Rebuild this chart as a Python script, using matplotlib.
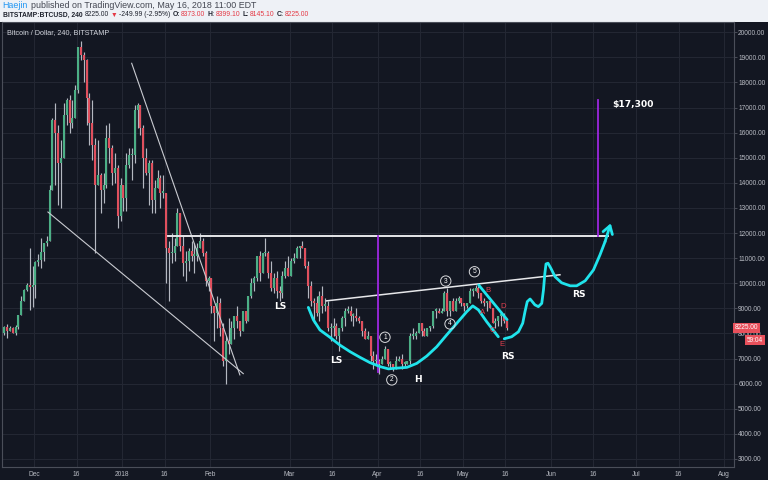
import matplotlib
matplotlib.use("Agg")
import matplotlib.pyplot as plt
import matplotlib.dates as mdates
import matplotlib.transforms as mtransforms
import numpy as np
import pandas as pd

plt.rcParams['font.family'] = ['Liberation Sans', 'DejaVu Sans']

# daily BTCUSD candles (Bitstamp), starting 20 Nov 2017
first_day = "2017-11-20"
opens = [
    8030, 8240, 8100, 8230, 8030, 8250, 8730, 9310, 9730, 9920, 9850,
    9950, 10860, 10910, 11240, 11600, 11700, 13700, 16500, 16000, 14800, 15000, 16700, 17300, 16400, 16600, 17700,
    19400, 19100, 18900, 17400, 16400, 15500, 13900, 14300, 13700, 13900, 15800, 15400, 14400, 14600, 12700,
    13900, 13400, 14700, 15100, 15100, 16900, 17100, 16200, 15000, 14400, 14800, 13300, 13800, 14200, 13600, 13600,
    11400, 11200, 11200, 11500, 12800, 11500, 10800, 10900, 11300, 11100, 11100, 11400, 11700, 11200, 10100,
    10200, 9100, 8800, 9200, 8200, 6900, 7700, 7600, 8200, 8700, 8500, 8100, 8900, 8500, 9500, 10000,
    10200, 11100, 10400, 11200, 11200, 10400, 9800, 10200, 9700, 9600, 10300, 10600,
    10300, 10900, 11000, 11400, 11500, 11400, 10700, 9900, 9300, 9200, 8800, 9500, 9100, 9100, 8200, 8200,
    8300, 7900, 8200, 8600, 8900, 8900, 8700, 8700, 8600, 8500, 8100, 7800, 7900, 7100, 6900,
    6900, 6800, 7000, 7400, 6800, 6800, 6600, 6900, 7000, 6800, 6800, 6900, 7900, 7900, 8000,
    8400, 8100, 7900, 8200, 8300, 8900, 8900, 8800, 8900, 9600, 8900, 9300, 8900, 9300, 9400,
    9200, 9100, 9200, 9700, 9700, 9800, 9600, 9300, 9200, 9300, 9000, 8400, 8500, 8700, 8700, 8500,
]
highs = [
    8280, 8370, 8300, 8270, 8340, 8750, 9480, 9770, 10000, 11400, 10700,
    10900, 11150, 11800, 11600, 11900, 13900, 16600, 17200, 16300, 15700, 17200, 17400, 17500, 17300, 17900, 19400,
    19650, 19200, 18950, 17600, 17300, 15800, 15700, 14400, 14400, 16300, 16400, 15500, 15200, 14700, 14200,
    13900, 15200, 15400, 15400, 17100, 17200, 17100, 16300, 15400, 14900, 14900, 14100, 14500, 14300, 14300, 13600,
    11700, 12000, 11800, 13000, 12800, 11900, 11300, 11400, 11700, 11600, 11600, 12000, 11800, 11300, 10300,
    10200, 9100, 9500, 9400, 8400, 7900, 8600, 8500, 8700, 9100, 8500, 8900, 8900, 9500, 10200,
    10300, 11100, 11300, 11200, 11800, 11300, 10900, 10400, 10500, 9900, 10500, 10900, 11100,
    11000, 11200, 11500, 11500, 11700, 11400, 10900, 10100, 9400, 9500, 9700, 9900, 9400, 9300, 8400, 8600,
    8400, 8200, 8700, 9000, 9100, 9100, 8800, 9000, 8700, 8500, 8200, 8100, 7900, 7300, 7200,
    7000, 7100, 7500, 7400, 6900, 6800, 7100, 7100, 7200, 6900, 6900, 8000, 8200, 8100, 8400,
    8400, 8200, 8200, 8300, 8900, 9000, 9000, 9000, 9700, 9800, 9300, 9400, 9400, 9500, 9400,
    9200, 9200, 9800, 9800, 9950, 9900, 9600, 9400, 9300, 9300, 9000, 8600, 8700, 8900, 8800, 8500,
]
lows = [
    7950, 7820, 8080, 8030, 7950, 8180, 8730, 9300, 9680, 8950, 9050,
    9400, 10700, 10600, 10900, 11500, 11700, 13700, 13900, 13100, 13000, 15000, 16300, 16000, 16200, 16600, 17600,
    18900, 18000, 16300, 15500, 14900, 11200, 13900, 12800, 13200, 13800, 14800, 13900, 14000, 12200, 12500,
    12900, 12900, 14600, 14100, 14800, 16200, 15900, 13800, 14300, 13100, 12800, 12800, 13800, 13000, 13400, 10000,
    9300, 10800, 10900, 11500, 11300, 10300, 10100, 10500, 10900, 10400, 10900, 11400, 11100, 9900, 9700,
    8800, 7700, 8200, 7900, 6700, 6000, 7200, 7600, 7800, 8200, 7900, 8100, 8400, 8500, 9400,
    9700, 10100, 10100, 10400, 11100, 10200, 9700, 9600, 9400, 9300, 9400, 10200, 10300,
    10300, 10800, 11000, 11000, 11400, 10600, 9400, 9100, 8400, 8700, 8500, 8800, 8900, 8100, 7700, 7900,
    7800, 7300, 8100, 8300, 8800, 8500, 8300, 8500, 8400, 7900, 7800, 7800, 6900, 6600, 6800,
    6400, 6800, 7000, 6700, 6600, 6500, 6600, 6900, 6600, 6700, 6800, 6800, 7800, 7800, 8000,
    7900, 7900, 7900, 8100, 8200, 8600, 8800, 8800, 8900, 8700, 8700, 8900, 8900, 9200, 9100,
    8900, 9000, 9200, 9500, 9700, 9400, 9200, 9100, 8900, 9000, 8400, 8200, 8300, 8300, 8400, 8150,
]
closes = [
    8240, 8100, 8230, 8030, 8250, 8730, 9310, 9730, 9920, 9850, 9950,
    10860, 10910, 11240, 11600, 11700, 13700, 16500, 16000, 14800, 15000, 16700, 17300, 16400, 16600, 17700, 19400,
    19100, 18900, 17400, 16400, 15500, 13900, 14300, 13700, 13900, 15800, 15400, 14400, 14600, 12700, 13900,
    13400, 14700, 15100, 15100, 16900, 17100, 16200, 15000, 14400, 14800, 13300, 13800, 14200, 13600, 13600, 11400,
    11200, 11200, 11500, 12800, 11500, 10800, 10900, 11300, 11100, 11100, 11400, 11700, 11200, 10100, 10200,
    9100, 8800, 9200, 8200, 6900, 7700, 7600, 8200, 8700, 8500, 8100, 8900, 8500, 9500, 10000,
    10200, 11100, 10400, 11200, 11200, 10400, 9800, 10200, 9700, 9600, 10300, 10600, 10300,
    10900, 11000, 11400, 11500, 11400, 10700, 9900, 9300, 9200, 8800, 9500, 9100, 9100, 8200, 8200, 8300,
    7900, 8200, 8600, 8900, 8900, 8700, 8700, 8600, 8500, 8100, 7800, 7900, 7100, 6900, 6900,
    6800, 7000, 7400, 6800, 6800, 6600, 6900, 7000, 6800, 6800, 6900, 7900, 7900, 8000, 8400,
    8100, 7900, 8200, 8300, 8900, 8900, 8800, 8900, 9600, 8900, 9300, 8900, 9300, 9400, 9200,
    9100, 9200, 9700, 9700, 9800, 9600, 9300, 9200, 9300, 9000, 8400, 8500, 8700, 8700, 8500, 8225,
]

# axis ticks
tick_dates = ["2017-12-01", "2017-12-16", "2018-01-01", "2018-01-16", "2018-02-01", "2018-03-01",
              "2018-03-16", "2018-04-01", "2018-04-16", "2018-05-01", "2018-05-16", "2018-06-01",
              "2018-06-16", "2018-07-01", "2018-07-16", "2018-08-01"]
tick_labels = ["Dec", "16", "2018", "16", "Feb", "Mar", "16", "Apr", "16", "May", "16",
               "Jun", "16", "Jul", "16", "Aug"]
price_ticks = list(range(3000, 20001, 1000))

# hand drawn overlay, x = days after 1 Dec 2017
ref_day = "2017-12-01"
view_days = [-11.27, 246.5]
view_prices = [2681, 20410]
trend_hi_days, trend_hi_prices = [34.4, 72.5], [18765, 6350]
trend_lo_days, trend_lo_prices = [4.9, 73.7], [12840, 6400]
resist_days, resist_price = [47.3, 202.0], 11900
neck_days, neck_prices = [103.0, 185.2], [9300, 10340]
purple_a_day, purple_a_prices = 121.1, [6480, 11900]
purple_b_day, purple_b_prices = 198.7, [11900, 17300]
target_day, target_price, target_text = 203.8, 17120, "$17,300"
cup_days = [96.6, 98.4, 100.7, 104.2, 107.7, 111.3, 114.8, 118.3, 121.9, 124.8, 126.5, 131.3,
            134.8, 138.3, 141.8, 145.3, 148.9, 152.4, 154.5, 156.5, 159.4, 163.5]
cup_prices = [9040, 8540, 8140, 7850, 7540, 7275, 7050, 6840, 6680, 6590, 6610, 6650,
              6810, 7100, 7470, 7940, 8410, 8870, 9100, 8940, 8470, 7870]
channel_days, channel_prices = [156.6, 166.6], [9930, 8550]
proj_days = [165.6, 168.2, 170.6, 172.1, 172.9, 173.7, 174.7, 176.4, 177.6, 178.8, 179.4, 179.9,
             180.3, 181.0, 182.0, 183.5, 185.8, 188.8, 191.1, 194.1, 197.0, 199.3, 201.1]
proj_prices = [7790, 7870, 8070, 8410, 8870, 9270, 9375, 9140, 9070, 9200, 9730, 10400,
               10770, 10800, 10600, 10260, 10020, 9900, 9900, 10100, 10530, 11130, 11660]
arrow_tip_day, arrow_tip_price = 203.1, 12390
shape_labels = ["LS", "LS", "H", "RS", "RS"]
shape_days = [86.6, 106.4, 135.3, 167.0, 192.0]
shape_prices = [9070, 6920, 6180, 7100, 9560]
wave_labels = ["1", "2", "3", "4", "5"]
wave_days = [123.6, 126.0, 145.0, 146.5, 155.1]
wave_prices = [7850, 6150, 10090, 8380, 10460]
abc_labels = ["A", "B", "C", "D", "E"]
abc_days = [158.0, 160.0, 161.4, 165.3, 164.9]
abc_prices = [8830, 9700, 8110, 9070, 7580]

BG = "#131722"
GRID = "#232733"
AXTXT = "#b8bbc3"
CYAN = "#20e4ec"
PURPLE = "#9c27e0"
UP, DOWN, WICK = "#4caf86", "#e0505e", "#b4b8c1"
RED = "#e53945"

fig = plt.figure(figsize=(7.68, 4.8), dpi=100, facecolor="#eef1f6")
fig.add_artist(plt.Rectangle((0, 0), 1, 458 / 480, transform=fig.transFigure,
                             facecolor=BG, edgecolor="none", zorder=-1))
ax = fig.add_axes([2 / 768, 13 / 480, 732 / 768, 445 / 480], facecolor=BG)

ref = mdates.date2num(pd.Timestamp(ref_day))


def dx(days):
    return ref + np.asarray(days, dtype=float)


# candles
dates = pd.date_range(first_day, periods=len(closes), freq="D")
x = mdates.date2num(dates) + 0.5
o, h, l, c = (np.array(v, dtype=float) for v in (opens, highs, lows, closes))
up = c >= o
body_lo = np.minimum(o, c)
body_hi = np.maximum(np.maximum(o, c), body_lo + 60)
ax.vlines(x, l, h, color=WICK, lw=0.85, zorder=2)
ax.vlines(x[up], body_lo[up], body_hi[up], color=UP, lw=1.5, zorder=3)
ax.vlines(x[~up], body_lo[~up], body_hi[~up], color=DOWN, lw=1.5, zorder=3)

# trend lines
ax.plot(dx(trend_hi_days), trend_hi_prices, color="#c9cbd1", lw=0.8, zorder=4)
ax.plot(dx(trend_lo_days), trend_lo_prices, color="#c9cbd1", lw=0.8, zorder=4)
ax.plot(dx(resist_days), [resist_price] * 2, color="#e6e7ea", lw=1.4, zorder=4)
ax.plot(dx(neck_days), neck_prices, color="#e6e7ea", lw=1.1, zorder=4)
ax.plot(dx([purple_a_day] * 2), purple_a_prices, color=PURPLE, lw=1.3, zorder=4)
ax.plot(dx([purple_b_day] * 2), purple_b_prices, color=PURPLE, lw=1.3, zorder=4)
ax.text(dx(target_day), target_price, target_text, color="white", fontsize=6.6,
        fontweight="bold", family="DejaVu Sans", ha="left", va="center", zorder=6)

# cyan sketch
kw = dict(color=CYAN, lw=2.0, solid_capstyle="round", solid_joinstyle="round", zorder=5)
ax.plot(dx(cup_days), cup_prices, **kw)
ax.plot(dx(channel_days), channel_prices, **kw)
ax.plot(dx(proj_days), proj_prices, **kw)
ax.annotate("", xy=(dx(arrow_tip_day), arrow_tip_price),
            xytext=(dx(proj_days[-1]), proj_prices[-1]),
            arrowprops=dict(arrowstyle="->,head_length=0.55,head_width=0.35", color=CYAN,
                            lw=2.0, shrinkA=0, shrinkB=0), zorder=5)

for s, d, p in zip(shape_labels, shape_days, shape_prices):
    ax.text(dx(d), p, s, color="white", fontsize=6.6, fontweight="bold",
            family="DejaVu Sans", ha="center", va="center", zorder=6)
for s, d, p in zip(wave_labels, wave_days, wave_prices):
    ax.text(dx(d), p, s, color="white", fontsize=4.8, ha="center", va="center", zorder=6,
            bbox=dict(boxstyle="circle,pad=0.25", fc="none", ec="#d9dadd", lw=0.7))
for s, d, p in zip(abc_labels, abc_days, abc_prices):
    ax.text(dx(d), p, s, color="#e0404f", fontsize=5.6, ha="center", va="center", zorder=6)

# axes styling
ax.set_xlim(dx(view_days[0]), dx(view_days[1]))
ax.set_ylim(*view_prices)
ax.set_xticks(mdates.date2num(pd.to_datetime(tick_dates)))
ax.set_xticklabels(tick_labels)
ax.yaxis.tick_right()
ax.set_yticks(price_ticks)
ax.set_yticklabels([f"{v:.2f}" for v in price_ticks])
ax.tick_params(axis="y", length=2, width=0.6, pad=1, color="#50535e", labelcolor=AXTXT, labelsize=4.8)
ax.tick_params(axis="x", length=0, pad=3.2, labelcolor=AXTXT, labelsize=4.8)
ax.grid(True, color=GRID, lw=0.8)
ax.set_axisbelow(True)
for sp in ax.spines.values():
    sp.set_color("#4a4e59")
    sp.set_linewidth(0.8)

ax.text(0.0072, 0.977, "Bitcoin / Dollar, 240, BITSTAMP", transform=ax.transAxes,
        color="#d1d4dc", fontsize=5.2, ha="left", va="center")

# last price tags on the price scale
blend = mtransforms.blended_transform_factory(ax.transAxes, ax.transData)
ax.text(1.0015, closes[-1], f"{closes[-1]:.2f}", transform=blend, color="white", fontsize=4.7,
        ha="left", va="center", clip_on=False, zorder=10,
        bbox=dict(boxstyle="square,pad=0.25", fc="#e8505b", ec="none"))
ax.annotate("59:04", xy=(1.0396, closes[-1]), xycoords=blend, xytext=(0, -9),
            textcoords="offset points", color="white", fontsize=4.7, ha="right", va="center",
            annotation_clip=False, zorder=10,
            bbox=dict(boxstyle="square,pad=0.25", fc="#e8505b", ec="none"))

# header rows
renderer = fig.canvas.get_renderer()


def header_row(pieces, x0, y, width):
    arts = [fig.text(0, 1 - y / 480, s, color=col, fontweight=wt, fontsize=6,
                     ha="left", va="center") for s, col, wt, _ in pieces]
    gaps = [g for *_, g in pieces]

    def place():
        xx = x0
        total = 0
        for a, g in zip(arts, gaps):
            xx += g
            a.set_x(xx / 768)
            w = a.get_window_extent(renderer).width
            xx += w
            total += w
        return total

    k = (width - sum(gaps)) / place()
    for a in arts:
        a.set_fontsize(6 * k)
    place()


DARK, GREY = "#1e222d", "#434651"
header_row([("Haejin", "#2196f3", "normal", 0),
            ("published on TradingView.com, May 16, 2018 11:00 EDT", GREY, "normal", 3)],
           2.7, 5, 254)
header_row([("BITSTAMP:BTCUSD, 240", DARK, "bold", 0), ("8225.00", DARK, "normal", 2.5),
            ("\u25bc", RED, "normal", 1.5), ("-249.99 (-2.95%)", DARK, "normal", 1.5),
            ("O:", DARK, "bold", 2.5), ("8373.00", RED, "normal", 0.8),
            ("H:", DARK, "bold", 2.5), ("8399.10", RED, "normal", 0.8),
            ("L:", DARK, "bold", 2.5), ("8145.10", RED, "normal", 0.8),
            ("C:", DARK, "bold", 2.5), ("8225.00", RED, "normal", 0.8)],
           2.7, 15, 310)

fig.savefig("out.png", dpi=100, facecolor=fig.get_facecolor())
